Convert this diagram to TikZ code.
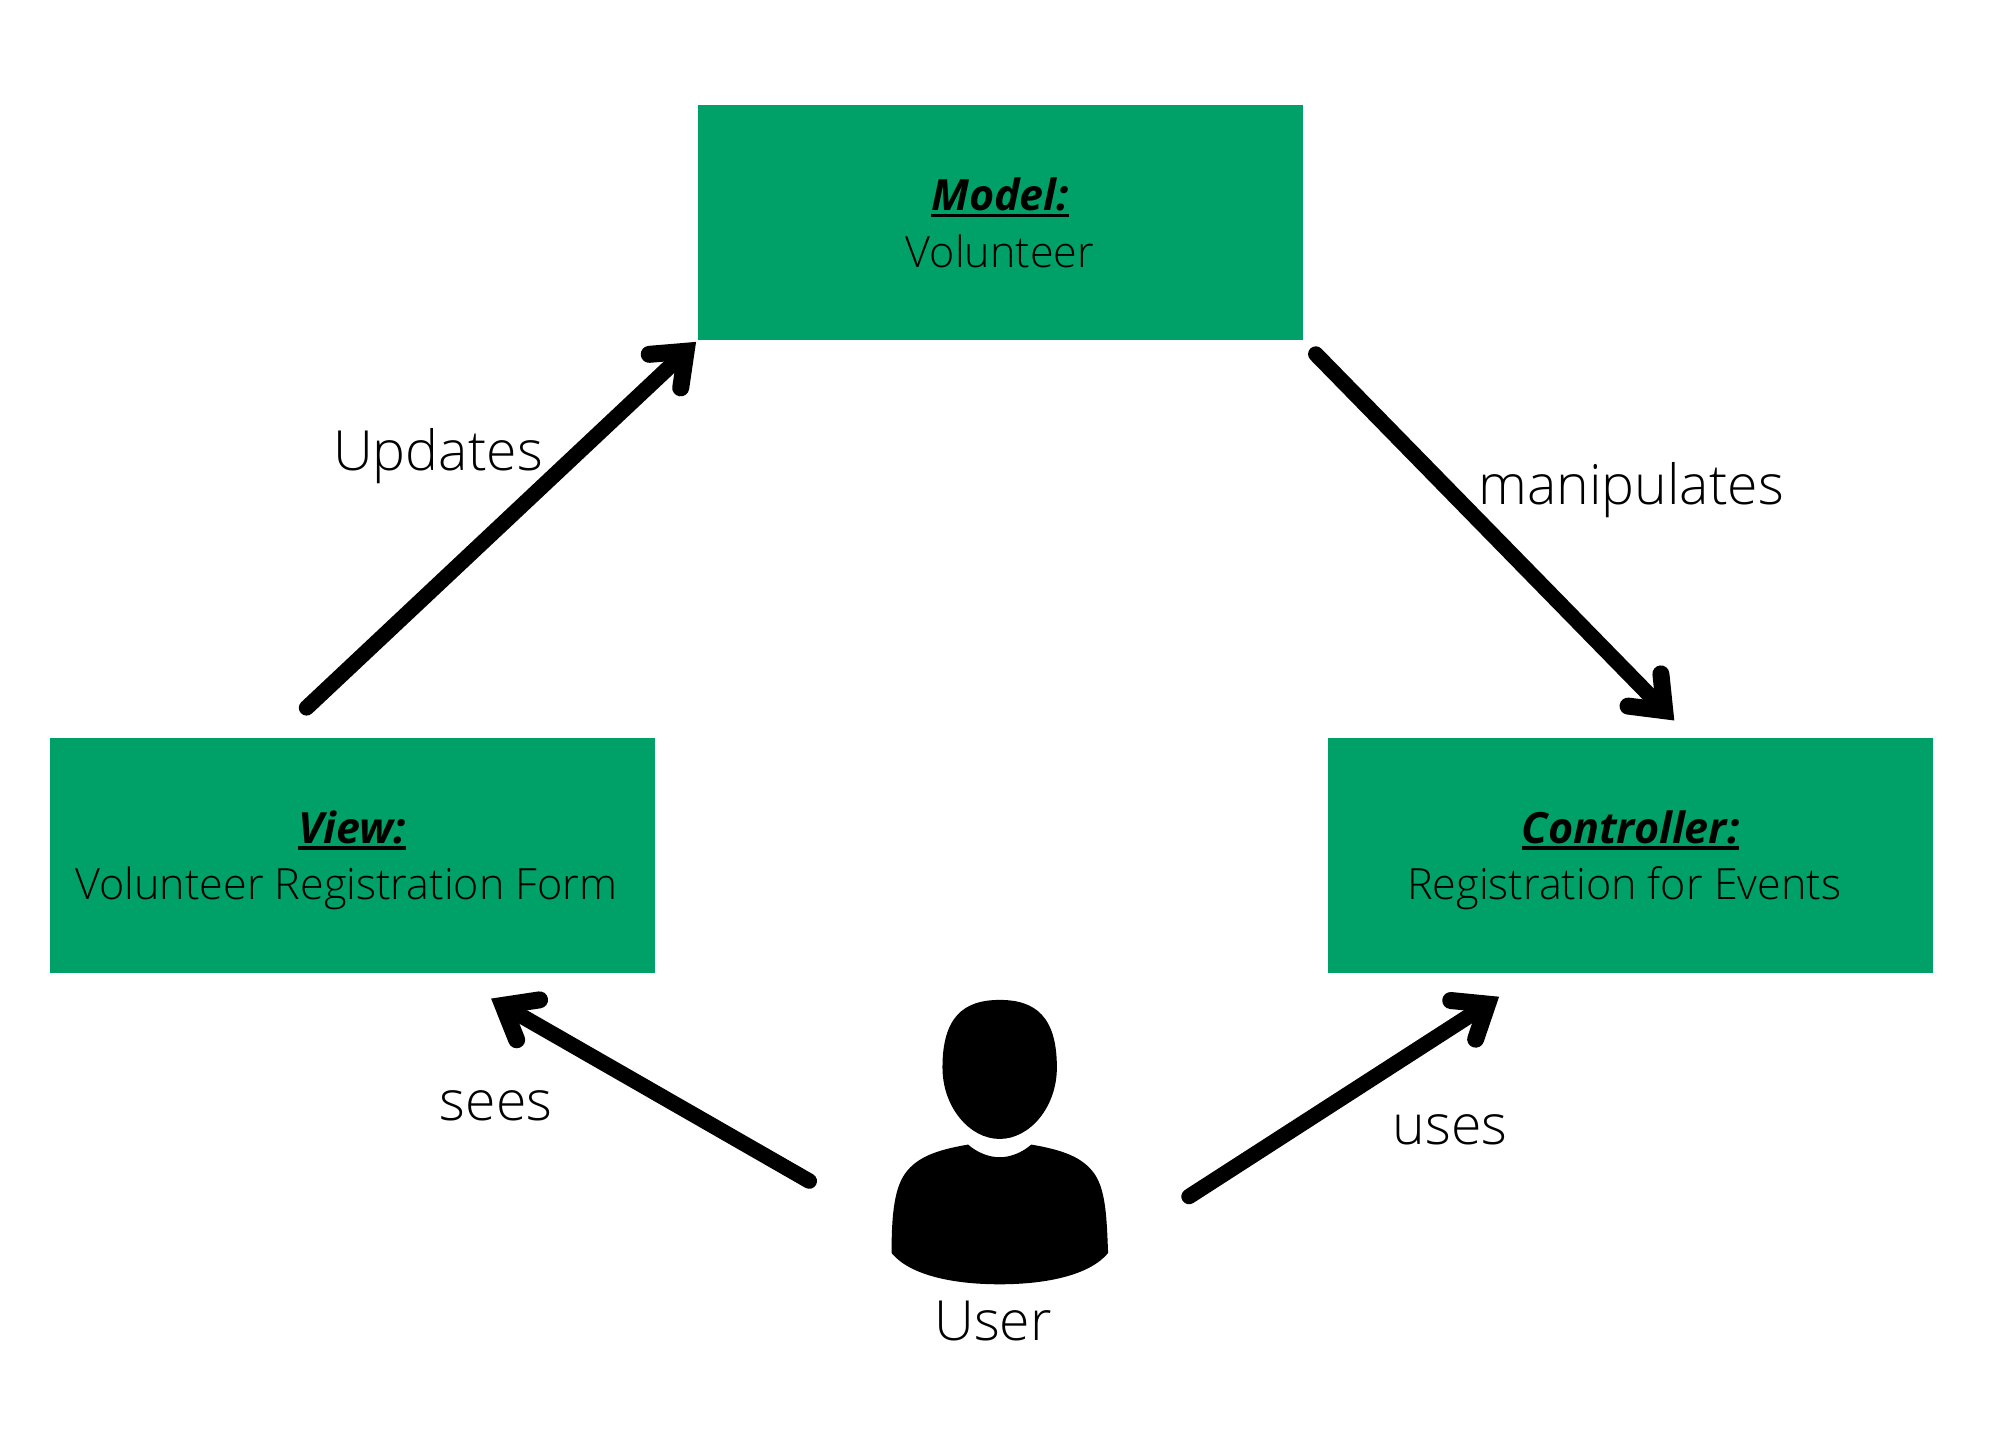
\documentclass[tikz,border=0pt]{standalone}
\usepackage{fontspec}
\setmainfont{Open Sans}[UprightFont=* Light,BoldItalicFont=* Bold Italic]
\usetikzlibrary{arrows.meta}
\definecolor{boxgreen}{RGB}{0,160,105}
\newlength{\titlewidth}
\newcommand{\boxtitle}[1]{\settowidth{\titlewidth}{\bfseries\itshape #1}\rlap{\rule[-1.9pt]{\titlewidth}{0.95pt}}{\bfseries\itshape #1}}
\newcommand{\boxtext}[2]{\boxtitle{#1}\rule{0pt}{12.6pt}\\#2\rule[-3.5pt]{0pt}{3.5pt}}

\begin{document}
\begin{tikzpicture}
        [box/.style={rectangle, fill=boxgreen, minimum width=6.05cm, minimum height=2.35cm, inner sep=0pt, align=center, font=\fontsize{12.25}{16.2}\selectfont},
        edge/.style={line width=0.155cm, black, line cap=round, -{Straight Barb[length=0.29cm, width=0.46cm, line width=0.17cm, line cap=round, line join=miter]}},
        word/.style={font=\fontsize{15.75}{20}\selectfont}]

        \useasboundingbox (0,0) rectangle (20,14.28);

        \node[box] (model) at (10.0,12.05) {\boxtext{Model:}{Volunteer}};
        \node[box] (view) at (3.52,5.725) {\boxtext{View:}{Volunteer Registration Form\kern3.2pt}};
        \node[box] (controller) at (16.305,5.725) {\boxtext{Controller:}{Registration for Events\kern3.6pt}};

        % empty node that holds the person icon
        \node[minimum width=2.17cm, minimum height=2.85cm, inner sep=0pt] (person) at (10.0,2.855) {};
        \node[word] (user) at (9.93,1.07) {User};

        % person icon
        \begin{scope}[shift={(8.5,4.67)}, x=0.003333cm, y=-0.003333cm]
        \fill[black] (450,117) .. controls (560,117) and (622,170) .. (622,320) .. controls (622,440) and (540,535) .. (450,535) .. controls (360,535) and (278,440) .. (278,320) .. controls (278,170) and (340,117) .. (450,117) -- cycle;
        \fill[black] (355,552) .. controls (385,578) and (420,590) .. (450,590) .. controls (480,590) and (515,578) .. (545,552) .. controls (640,568) and (700,590) .. (735,640) .. controls (770,690) and (772,780) .. (776,878) .. controls (720,945) and (590,972) .. (450,972) .. controls (310,972) and (180,945) .. (125,878) .. controls (125,780) and (130,690) .. (165,640) .. controls (200,590) and (260,568) .. (355,552) -- cycle;
        \end{scope}

        % arrows between the boxes
        \draw[edge, shorten <=0.43cm, shorten >=0.01cm] (view.123) -- (model.south west);
        \draw[edge, shorten <=0.18cm, shorten >=0.235cm] (model.south east) -- (controller.63);
        \draw[edge, shorten <=0.94cm, shorten >=0.50cm] (person.218.7) -- (view.-51.2);
        \draw[edge, shorten <=0.95cm, shorten >=0.425cm] (person.-44.7) -- (controller.-129.7);

        % labels of the arrows
        \node[word] (updates) at (4.38,9.72) {Updates};
        \node[word] (manipulates) at (16.31,9.38) {manipulates};
        \node[word] (sees) at (4.96,3.22) {sees};
        \node[word] (uses) at (14.50,2.98) {uses};
        \end{tikzpicture}
\end{document}
